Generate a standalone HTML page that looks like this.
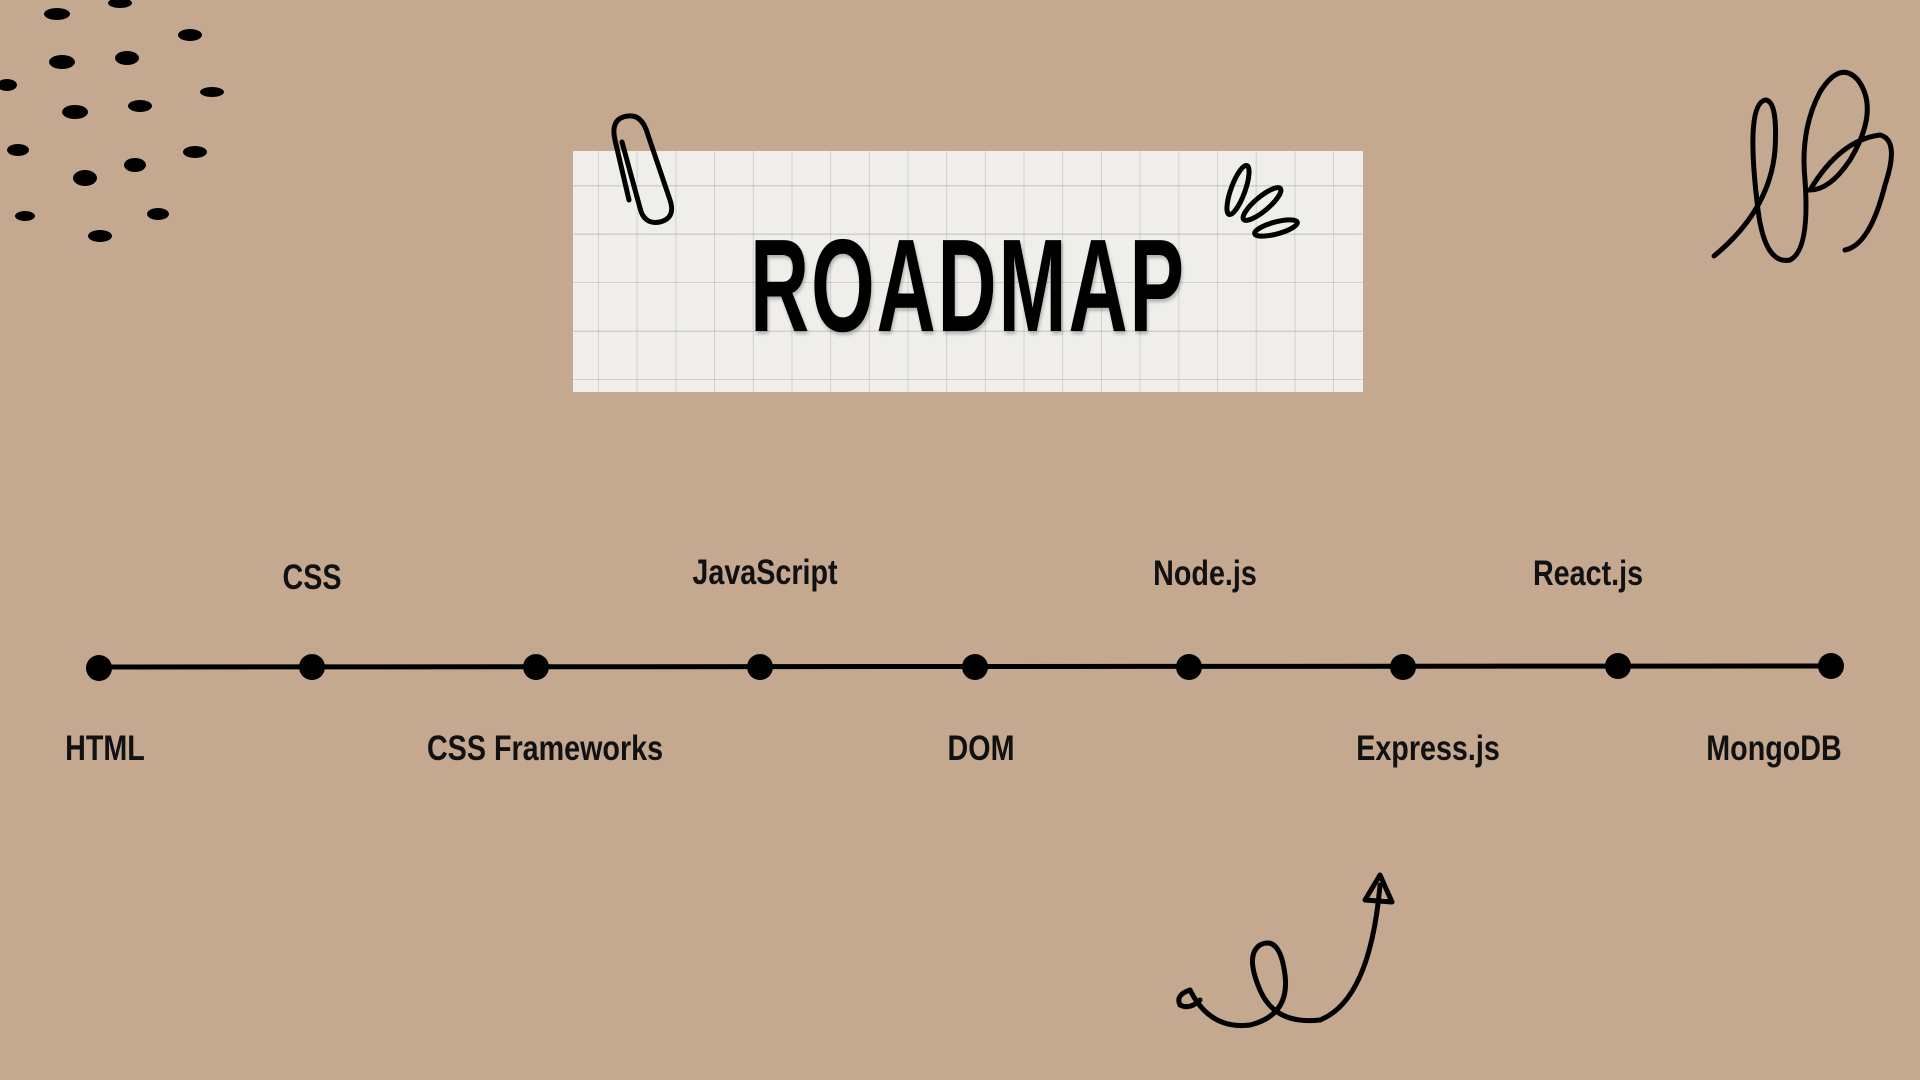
<!DOCTYPE html>
<html><head><meta charset="utf-8"><style>
html,body{margin:0;padding:0}
body{width:1920px;height:1080px;position:relative;overflow:hidden;background:#c5a890;font-family:"Liberation Sans",sans-serif}
.card{position:absolute;left:573px;top:151px;width:790px;height:241px;background-color:#efeeea;
background-image:linear-gradient(90deg,rgba(120,120,120,.25) 1px,transparent 1px),linear-gradient(0deg,rgba(120,120,120,.25) 1px,transparent 1px);
background-size:38.7px 48.5px;background-position:25px 35px}
.title{position:absolute;left:573px;top:220px;width:790px;text-align:center;font-size:132px;font-weight:bold;letter-spacing:3px;color:#000;line-height:1;transform:scaleX(0.62);text-shadow:2px 3px 4px rgba(0,0,0,.25)}
.lbl{position:absolute;font-size:35px;font-weight:bold;color:#111;transform:translateX(-50%) scaleX(0.82);white-space:nowrap;line-height:1}
</style></head><body>
<div class="card"></div>
<div class="title">ROADMAP</div>
<svg width="1920" height="1080" style="position:absolute;left:0;top:0">
<g stroke="#000" stroke-width="5" fill="none" stroke-linecap="round">
<path d="M629 200 L615 140 Q610 118 628 116 Q642 114 648 135 L670 200 Q676 218 660 222 Q644 225 640 208 L622 142"/>
<ellipse cx="1238" cy="190" rx="7" ry="26" transform="rotate(20 1238 190)"/>
<ellipse cx="1262" cy="204" rx="7" ry="24" transform="rotate(50 1262 204)"/>
<ellipse cx="1276" cy="228" rx="6" ry="22" transform="rotate(75 1276 228)"/>
<path d="M1714 256 Q1770 210 1775 150 Q1778 100 1765 100 Q1745 105 1758 210 Q1765 265 1790 260 Q1810 250 1805 180 Q1800 130 1820 92 Q1840 60 1858 80 Q1880 110 1850 160 Q1830 190 1810 190 Q1840 140 1880 135 Q1900 140 1885 185 Q1870 245 1845 250"/>
<path d="M1190 990 Q1210 1030 1250 1025 Q1290 1015 1285 975 Q1280 935 1260 945 Q1245 955 1260 990 Q1275 1025 1320 1020 Q1370 1000 1380 885"/>
<path d="M1365 900 L1380 875 L1392 902 Z" stroke-linejoin="round"/>
<path d="M1190 990 Q1175 995 1180 1005 Q1190 1010 1200 1000"/>
<line x1="99" y1="667" x2="1831" y2="666" stroke-width="5"/>
</g>
<g fill="#000">
<circle cx="99" cy="668" r="13"/><circle cx="312" cy="667" r="13"/><circle cx="536" cy="667" r="13"/><circle cx="760" cy="667" r="13"/><circle cx="975" cy="667" r="13"/><circle cx="1189" cy="667" r="13"/><circle cx="1403" cy="667" r="13"/><circle cx="1618" cy="666" r="13"/><circle cx="1831" cy="666" r="13"/>
<ellipse cx="57" cy="14" rx="13" ry="6"/><ellipse cx="120" cy="3" rx="12" ry="5"/><ellipse cx="190" cy="35" rx="12" ry="6"/>
<ellipse cx="62" cy="62" rx="13" ry="7"/><ellipse cx="127" cy="58" rx="12" ry="7"/><ellipse cx="7" cy="85" rx="10" ry="6"/>
<ellipse cx="75" cy="112" rx="13" ry="7"/><ellipse cx="140" cy="106" rx="12" ry="6"/><ellipse cx="212" cy="92" rx="12" ry="5"/>
<ellipse cx="18" cy="150" rx="11" ry="6"/><ellipse cx="85" cy="178" rx="12" ry="8"/><ellipse cx="135" cy="165" rx="11" ry="7"/><ellipse cx="195" cy="152" rx="12" ry="6"/>
<ellipse cx="25" cy="216" rx="10" ry="5"/><ellipse cx="100" cy="236" rx="12" ry="6"/><ellipse cx="158" cy="214" rx="11" ry="6"/>
</g>
</svg>
<div class="lbl" style="left:312px;top:560px">CSS</div>
<div class="lbl" style="left:765px;top:555px">JavaScript</div>
<div class="lbl" style="left:1205px;top:556px">Node.js</div>
<div class="lbl" style="left:1588px;top:556px">React.js</div>
<div class="lbl" style="left:105px;top:731px">HTML</div>
<div class="lbl" style="left:545px;top:731px">CSS Frameworks</div>
<div class="lbl" style="left:981px;top:731px">DOM</div>
<div class="lbl" style="left:1428px;top:731px">Express.js</div>
<div class="lbl" style="left:1774px;top:731px">MongoDB</div>
</body></html>
